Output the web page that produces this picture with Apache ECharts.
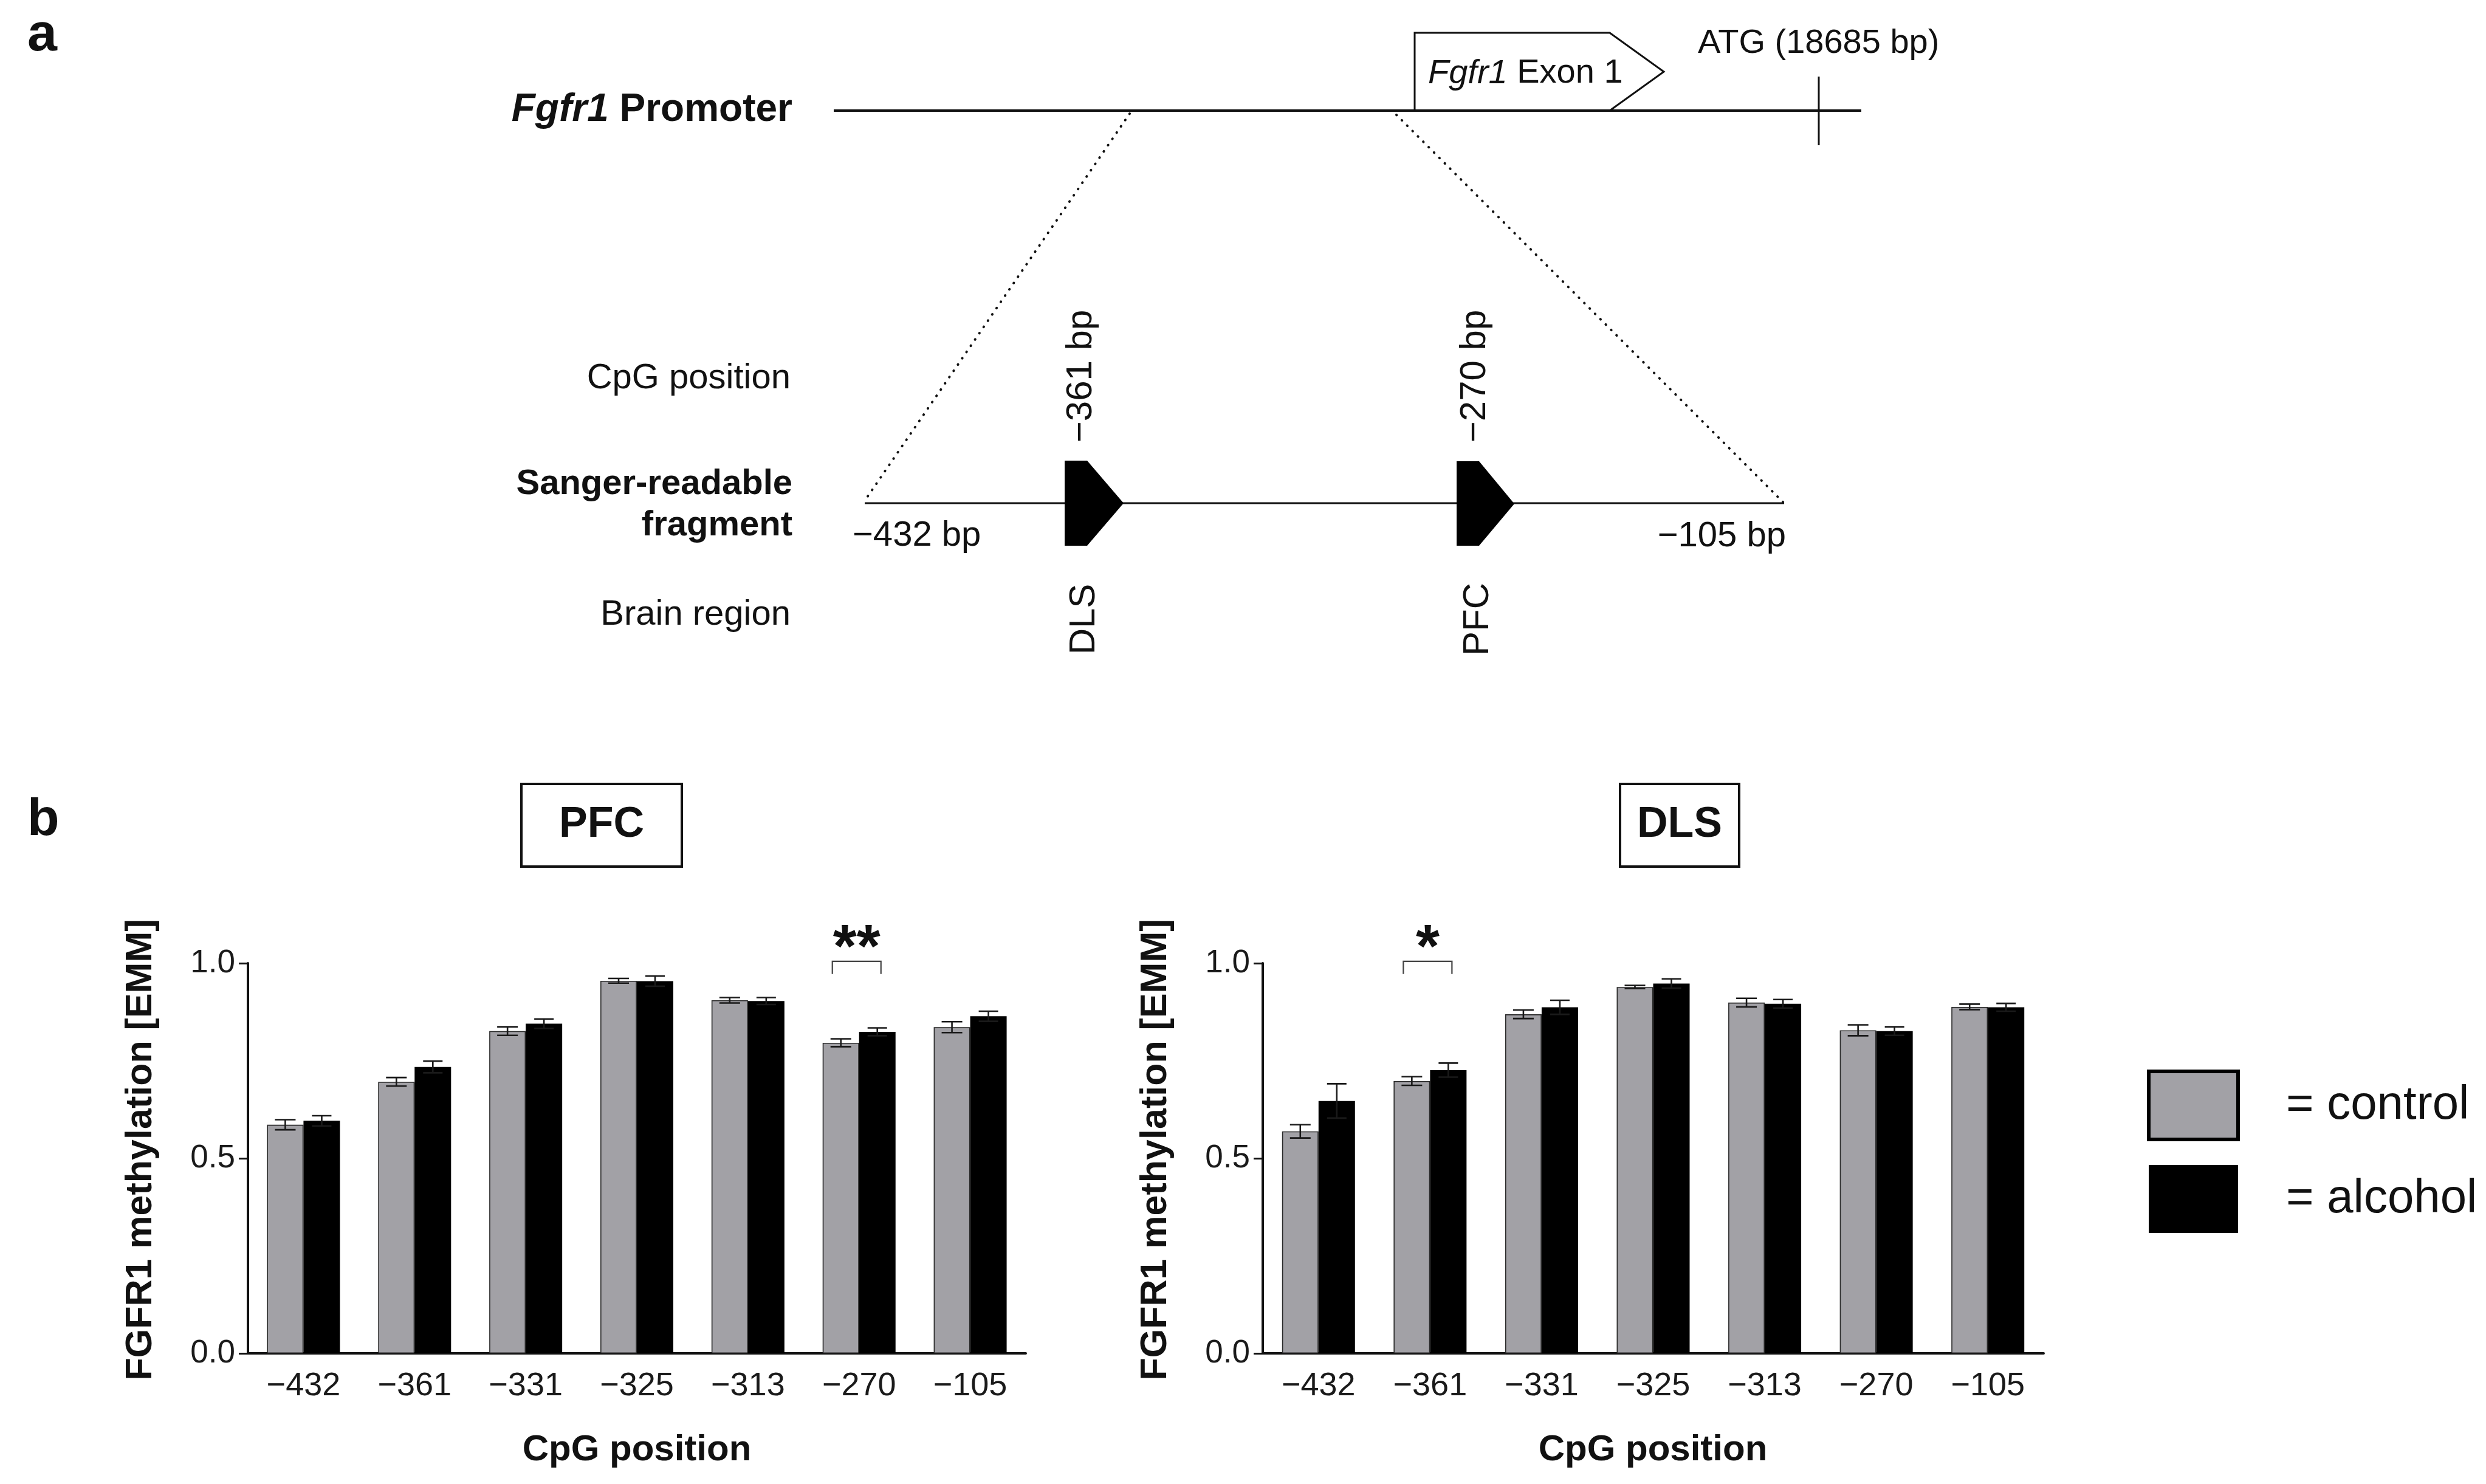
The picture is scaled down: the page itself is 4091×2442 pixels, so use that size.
<!DOCTYPE html>
<html>
<head>
<meta charset="utf-8">
<script src="https://cdn.jsdelivr.net/npm/echarts@6/dist/echarts.min.js"></script>
<style>
  html, body { margin: 0; padding: 0; background: #fff; }
  #chart { width: 4091px; height: 2442px; }
</style>
</head>
<body>
<div id="chart"></div>
<script>
// ---------------- data ----------------
const categories = ['\u2212432', '\u2212361', '\u2212331', '\u2212325', '\u2212313', '\u2212270', '\u2212105'];

const pfcControl     = [0.586, 0.696, 0.826, 0.955, 0.905, 0.796, 0.836];
const pfcControlErr  = [0.013, 0.011, 0.011, 0.006, 0.007, 0.010, 0.014];
const pfcAlcohol     = [0.596, 0.734, 0.845, 0.954, 0.903, 0.824, 0.864];
const pfcAlcoholErr  = [0.013, 0.015, 0.012, 0.013, 0.009, 0.010, 0.013];

const dlsControl     = [0.569, 0.698, 0.869, 0.939, 0.899, 0.828, 0.888];
const dlsControlErr  = [0.017, 0.011, 0.011, 0.004, 0.011, 0.014, 0.007];
const dlsAlcohol     = [0.647, 0.726, 0.887, 0.948, 0.896, 0.826, 0.887];
const dlsAlcoholErr  = [0.044, 0.018, 0.018, 0.012, 0.011, 0.011, 0.010];

const yTickValues = [0, 0.5, 1.0];

// significance brackets: [category index, bracket level, mark]
const pfcSignificance = [[5, 1.005, '**']];
const dlsSignificance = [[1, 1.005, '*']];

// panel a schematic texts
const promoterLabel = 'Fgfr1';
const exonLabel = 'Exon 1';
const atgLabel = 'ATG (18685 bp)';
const fragmentStart = '\u2212432 bp';
const fragmentEnd = '\u2212105 bp';
const cpgMarks = ['\u2212361 bp', '\u2212270 bp'];
const brainRegions = ['DLS', 'PFC'];
const rowLabels = ['CpG position', 'Sanger-readable', 'fragment', 'Brain region'];
const seriesNames = ['control', 'alcohol'];

// ---------------- styles ----------------
const FONT = '"Liberation Sans", Arial, Helvetica, sans-serif';
const TXT = '#111';
const GREY = '#a2a1a6';
const BAR_W = 60;

const chart = echarts.init(document.getElementById('chart'), null, { renderer: 'canvas' });

function errorBar(offset, capHalf, color) {
  return function (params, api) {
    const i = api.value(0), m = api.value(1), e = api.value(2);
    const top = api.coord([i, m + e]);
    const bot = api.coord([i, m - e]);
    const x = top[0] + offset;
    const st = { stroke: color, lineWidth: 2.6 };
    return {
      type: 'group',
      children: [
        { type: 'line', shape: { x1: x, y1: top[1], x2: x, y2: bot[1] }, style: st },
        { type: 'line', shape: { x1: x - capHalf, y1: top[1], x2: x + capHalf, y2: top[1] }, style: st },
        { type: 'line', shape: { x1: x - capHalf, y1: bot[1], x2: x + capHalf, y2: bot[1] }, style: st }
      ]
    };
  };
}

function bracket(params, api) {
  const i = api.value(0), lvl = api.value(1);
  const p = api.coord([i, lvl]);
  const x1 = p[0] - 44, x2 = p[0] + 36, y = p[1];
  const mark = api.value(2);
  return {
    type: 'group',
    children: [
      { type: 'polyline', shape: { points: [[x1, y + 21], [x1, y], [x2, y], [x2, y + 21]] },
        style: { stroke: '#444', lineWidth: 2.2, fill: null } },
      { type: 'text', x: (x1 + x2) / 2, y: y - 18,
        style: { text: String(mark), fontSize: 100, fontWeight: 'bold', fontFamily: FONT,
                 fill: TXT, align: 'center', verticalAlign: 'middle' } }
    ]
  };
}

function makeAxes(gridIndex) {
  return {
    x: {
      type: 'category', gridIndex, data: categories,
      axisLine: { lineStyle: { color: '#111', width: 4 } },
      axisTick: { alignWithLabel: true, length: 21, lineStyle: { color: '#111', width: 4 } },
      axisLabel: { interval: 0, margin: 27, fontSize: 54, fontFamily: FONT, color: '#1a1a1a' },
      splitLine: { show: false }
    },
    y: {
      type: 'value', gridIndex, min: 0, max: 1, interval: 0.5,
      axisLine: { show: true, lineStyle: { color: '#111', width: 4 } },
      axisTick: { show: true, length: 15, lineStyle: { color: '#111', width: 3 } },
      axisLabel: { margin: 21, fontSize: 53, fontFamily: FONT, color: '#1a1a1a',
                   formatter: v => yTickValues.includes(v) ? v.toFixed(1) : '' },
      splitLine: { show: false }
    }
  };
}

const a0 = makeAxes(0), a1 = makeAxes(1);

function barSeries(name, data, gi, color, border) {
  return {
    type: 'bar', name, data, xAxisIndex: gi, yAxisIndex: gi,
    barWidth: BAR_W, barGap: '0%',
    itemStyle: { color, borderColor: border, borderWidth: 1.6 },
    z: 2, silent: true
  };
}
function errSeries(name, vals, errs, gi, offset, cap, color) {
  return {
    type: 'custom', name, xAxisIndex: gi, yAxisIndex: gi,
    data: vals.map((v, i) => [i, v, errs[i]]),
    encode: { x: 0, y: 1 },
    renderItem: errorBar(offset, cap, color), z: 4, clip: false, silent: true
  };
}
function sigSeries(data, gi) {
  return {
    type: 'custom', xAxisIndex: gi, yAxisIndex: gi,
    data, encode: { x: 0, y: 1 }, dimensions: ['x', 'y', { name: 'mark', type: 'ordinal' }],
    renderItem: bracket, z: 5, clip: false, silent: true
  };
}

// ---------------- schematic (panel a) & panel titles ----------------
function txt(x, y, text, size, opts) {
  return Object.assign({
    type: 'text', x, y,
    style: Object.assign({ text, fontSize: size, fontFamily: FONT, fill: TXT,
                           align: 'left', verticalAlign: 'middle' }, (opts && opts.style) || {})
  }, (opts && opts.el) || {});
}
const dotted = { stroke: '#111', lineWidth: 4, lineDash: [0.5, 12], lineCap: 'round' };

const graphics = [
  // panel letters
  txt(45, 59, 'a', 88, { style: { fontWeight: 'bold' } }),
  txt(45, 1350, 'b', 86, { style: { fontWeight: 'bold' } }),

  // promoter row
  { type: 'polygon', shape: { points: [[2328, 182], [2328, 54], [2649, 54], [2738, 118], [2649, 182]] },
    style: { fill: '#fff', stroke: '#111', lineWidth: 3 } },
  { type: 'line', shape: { x1: 1372, y1: 182, x2: 3063, y2: 182 }, style: { stroke: '#111', lineWidth: 4 } },
  { type: 'line', shape: { x1: 2993, y1: 126, x2: 2993, y2: 239 }, style: { stroke: '#111', lineWidth: 3 } },
  { type: 'text', x: 1304, y: 181, style: {
      text: '{i|' + promoterLabel + '} {b|Promoter}', align: 'right', verticalAlign: 'middle',
      fontSize: 64, fontFamily: FONT, fill: TXT,
      rich: { i: { fontSize: 64, fontStyle: 'italic', fontWeight: 'bold', fontFamily: FONT, fill: TXT },
              b: { fontSize: 64, fontWeight: 'bold', fontFamily: FONT, fill: TXT } } } },
  { type: 'text', x: 2350, y: 121, style: {
      text: '{i|' + promoterLabel + '} {n|' + exonLabel + '}', align: 'left', verticalAlign: 'middle',
      fontSize: 56, fontFamily: FONT, fill: TXT,
      rich: { i: { fontSize: 56, fontStyle: 'italic', fontFamily: FONT, fill: TXT },
              n: { fontSize: 56, fontFamily: FONT, fill: TXT } } } },
  txt(2794, 72, atgLabel, 56),

  // zoom lines
  { type: 'line', shape: { x1: 1859, y1: 187, x2: 1423, y2: 824 }, style: dotted },
  { type: 'line', shape: { x1: 2298, y1: 189, x2: 2934, y2: 826 }, style: dotted },

  // fragment row
  { type: 'line', shape: { x1: 1423, y1: 828, x2: 2936, y2: 828 }, style: { stroke: '#111', lineWidth: 3 } },
  { type: 'polygon', shape: { points: [[1752, 758], [1789, 758], [1849, 828], [1789, 898], [1752, 898]] },
    style: { fill: '#000' } },
  { type: 'polygon', shape: { points: [[2397, 759], [2434, 759], [2492, 829], [2434, 898], [2397, 898]] },
    style: { fill: '#000' } },
  txt(1403, 882, fragmentStart, 58),
  txt(2939, 883, fragmentEnd, 58, { style: { align: 'right' } }),
  txt(1779, 619, cpgMarks[0], 60, { style: { align: 'center' }, el: { rotation: Math.PI / 2 } }),
  txt(2427, 619, cpgMarks[1], 60, { style: { align: 'center' }, el: { rotation: Math.PI / 2 } }),
  txt(1784, 1019, brainRegions[0], 60, { style: { align: 'center' }, el: { rotation: Math.PI / 2 } }),
  txt(2432, 1019, brainRegions[1], 60, { style: { align: 'center' }, el: { rotation: Math.PI / 2 } }),

  // row labels
  txt(1301, 623, rowLabels[0], 58, { style: { align: 'right' } }),
  txt(1304, 797, rowLabels[1], 58, { style: { align: 'right', fontWeight: 'bold' } }),
  txt(1304, 865, rowLabels[2], 58, { style: { align: 'right', fontWeight: 'bold' } }),
  txt(1301, 1012, rowLabels[3], 58, { style: { align: 'right' } }),

  // panel b title boxes
  { type: 'rect', shape: { x: 858, y: 1290, width: 264, height: 136 },
    style: { fill: '#fff', stroke: '#111', lineWidth: 4 } },
  txt(990, 1358, 'PFC', 70, { style: { align: 'center', fontWeight: 'bold' } }),
  { type: 'rect', shape: { x: 2666, y: 1290, width: 196, height: 136 },
    style: { fill: '#fff', stroke: '#111', lineWidth: 4 } },
  txt(2764, 1358, 'DLS', 70, { style: { align: 'center', fontWeight: 'bold' } }),

  // axis titles
  txt(232, 1892, 'FGFR1 methylation [EMM]', 61,
      { style: { align: 'center', fontWeight: 'bold' }, el: { rotation: Math.PI / 2 } }),
  txt(1902, 1892, 'FGFR1 methylation [EMM]', 61,
      { style: { align: 'center', fontWeight: 'bold' }, el: { rotation: Math.PI / 2 } }),
  txt(1048, 2386, 'CpG position', 60, { style: { align: 'center', fontWeight: 'bold' } }),
  txt(2720, 2386, 'CpG position', 60, { style: { align: 'center', fontWeight: 'bold' } })
];

const option = {
  backgroundColor: '#fff',
  animation: false,
  textStyle: { fontFamily: FONT },
  grid: [
    { left: 408, top: 1585, width: 1280, height: 642, containLabel: false },
    { left: 2078, top: 1585, width: 1285, height: 642, containLabel: false }
  ],
  xAxis: [a0.x, a1.x],
  yAxis: [a0.y, a1.y],
  legend: {
    orient: 'vertical', left: 3533, top: 1760, padding: 0,
    itemWidth: 147, itemHeight: 112, itemGap: 39, icon: 'rect',
    selectedMode: false,
    data: [
      { name: seriesNames[0], itemStyle: { color: GREY, borderColor: '#000', borderWidth: 6 } },
      { name: seriesNames[1], itemStyle: { color: '#000', borderWidth: 0 } }
    ],
    formatter: name => '{gap|}= ' + name,
    textStyle: { fontSize: 78, fontFamily: FONT, color: TXT, rich: { gap: { width: 74 } } }
  },
  graphic: { elements: graphics },
  series: [
    barSeries(seriesNames[0], pfcControl, 0, GREY, '#2a2a2a'),
    barSeries(seriesNames[1], pfcAlcohol, 0, '#000', '#000'),
    barSeries(seriesNames[0], dlsControl, 1, GREY, '#2a2a2a'),
    barSeries(seriesNames[1], dlsAlcohol, 1, '#000', '#000'),
    errSeries('errC0', pfcControl, pfcControlErr, 0, -BAR_W / 2, 17, '#1a1a1a'),
    errSeries('errA0', pfcAlcohol, pfcAlcoholErr, 0, BAR_W / 2, 16, '#1a1a1a'),
    errSeries('errC1', dlsControl, dlsControlErr, 1, -BAR_W / 2, 17, '#1a1a1a'),
    errSeries('errA1', dlsAlcohol, dlsAlcoholErr, 1, BAR_W / 2, 16, '#1a1a1a'),
    sigSeries(pfcSignificance, 0),
    sigSeries(dlsSignificance, 1)
  ]
};

chart.setOption(option);
</script>
</body>
</html>
